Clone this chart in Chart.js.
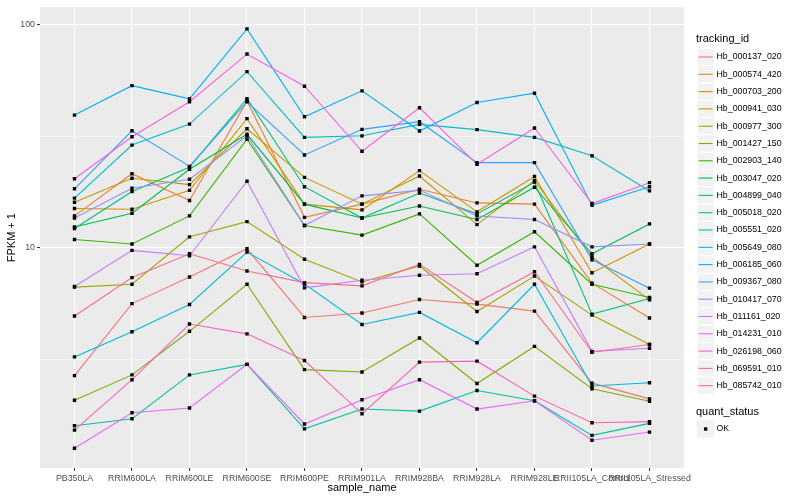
<!DOCTYPE html>
<html>
<head>
<meta charset="utf-8">
<script src="https://cdn.jsdelivr.net/npm/chart.js@4.4.1/dist/chart.umd.min.js"></script>
<style>
  html, body { margin: 0; padding: 0; background: #fff; }
  canvas { display: block; }
</style>
</head>
<body>
<canvas id="fpkmChart" width="800" height="500"></canvas>
<script>
// sample names on x
const samples = ['PB350LA', 'RRIM600LA', 'RRIM600LE', 'RRIM600SE', 'RRIM600PE', 'RRIM901LA',
  'RRIM928BA', 'RRIM928LA', 'RRIM928LE', 'RRII105LA_Control', 'RRII105LA_Stressed'];

// FPKM + 1 per tracking_id
const hb000137 = [2.67, 5.62, 7.40, 9.90, 4.87, 5.10, 5.86, 5.59, 5.20, 2.47, 2.10];
const hb000574 = [13.9, 21.5, 16.3, 45.6, 13.7, 15.7, 18.3, 15.9, 15.7, 6.94, 4.84];
const hb000703 = [15.0, 14.9, 18.1, 38.0, 15.7, 14.8, 22.2, 14.5, 20.9, 7.73, 10.4];
const hb000941 = [16.0, 20.5, 19.2, 34.2, 20.7, 15.7, 21.0, 12.7, 20.0, 9.09, 5.84];
const hb000977 = [6.66, 6.86, 11.2, 13.1, 8.88, 7.03, 8.29, 5.18, 7.47, 4.99, 3.68];
const hb001427 = [2.07, 2.69, 4.22, 6.86, 2.84, 2.77, 3.94, 2.46, 3.61, 2.33, 2.05];
const hb002903 = [10.9, 10.4, 13.9, 30.7, 12.6, 11.4, 14.2, 8.35, 11.8, 6.86, 5.98];
const hb003047 = [12.4, 14.3, 22.5, 32.3, 15.7, 13.6, 15.4, 13.4, 18.7, 9.40, 12.8];
const hb004899 = [12.2, 17.9, 23.0, 46.7, 18.8, 13.6, 17.6, 14.2, 19.7, 5.04, 5.92];
const hb005018 = [1.59, 1.71, 2.69, 3.00, 1.54, 1.89, 1.85, 2.29, 2.06, 1.44, 1.63];
const hb005551 = [16.7, 28.9, 35.9, 61.7, 31.3, 31.8, 35.8, 33.9, 31.3, 25.9, 18.0];
const hb005649 = [3.24, 4.20, 5.57, 9.57, 6.88, 4.53, 5.13, 3.75, 6.86, 2.40, 2.48];
const hb006185 = [39.4, 53.4, 46.6, 96.0, 38.7, 50.6, 33.4, 44.9, 49.4, 15.5, 18.8];
const hb009367 = [18.4, 33.5, 23.2, 45.2, 26.1, 34.0, 36.8, 24.1, 24.1, 8.84, 6.59];
const hb010417 = [13.6, 18.5, 20.3, 31.8, 12.6, 17.1, 18.1, 13.9, 13.4, 10.1, 10.4];
const hb011161 = [6.70, 9.74, 9.21, 19.9, 6.61, 7.15, 7.53, 7.65, 10.1, 3.43, 3.54];
const hb014231 = [1.26, 1.82, 1.91, 3.00, 1.62, 2.08, 2.56, 1.89, 2.06, 1.37, 1.49];
const hb026198 = [20.4, 31.5, 45.2, 74.0, 53.1, 27.1, 42.5, 23.7, 34.5, 15.8, 19.6];
const hb069591 = [1.52, 2.56, 4.55, 4.11, 3.12, 1.80, 3.07, 3.10, 2.16, 1.64, 1.66];
const hb085742 = [4.94, 7.35, 9.40, 7.87, 6.98, 6.75, 8.43, 5.68, 7.81, 3.40, 3.68];

const trackingIds = ['Hb_000137_020', 'Hb_000574_420', 'Hb_000703_200', 'Hb_000941_030', 'Hb_000977_300',
  'Hb_001427_150', 'Hb_002903_140', 'Hb_003047_020', 'Hb_004899_040', 'Hb_005018_020',
  'Hb_005551_020', 'Hb_005649_080', 'Hb_006185_060', 'Hb_009367_080', 'Hb_010417_070',
  'Hb_011161_020', 'Hb_014231_010', 'Hb_026198_060', 'Hb_069591_010', 'Hb_085742_010'];
const seriesValues = [hb000137, hb000574, hb000703, hb000941, hb000977, hb001427, hb002903, hb003047,
  hb004899, hb005018, hb005551, hb005649, hb006185, hb009367, hb010417, hb011161, hb014231,
  hb026198, hb069591, hb085742];

const yTicks = [3.1623, 10, 31.623, 100];
const yLabels = ['', '10', '', '100'];

// ggplot hue palette, 20 levels
const palette = ['#F8766D', '#EA8331', '#D89000', '#C09B00', '#A3A500', '#7CAE00', '#39B600', '#00BB4E',
  '#00BF7D', '#00C1A3', '#00BFC4', '#00BAE0', '#00B0F6', '#35A2FF', '#9590FF', '#C77CFF', '#E76BF3',
  '#FA62DB', '#FF62BC', '#FF6C91'];

const FONT = '"Liberation Sans", Arial, sans-serif';
Chart.defaults.font.family = FONT;

//Datasets: erst Linien, dann Punkte oben drauf
let datasets = [];
seriesValues.forEach((vals, i) => {
  datasets.push({
    label: trackingIds[i],
    data: vals.map((v, k) => ({ x: k, y: v })),
    borderColor: palette[i],
    borderWidth: 1.1,
    pointRadius: 0,
    tension: 0,
    order: 40 - i
  });
});
seriesValues.forEach((vals, i) => {
  datasets.push({
    label: trackingIds[i] + ' OK',
    data: vals.map((v, k) => ({ x: k, y: v })),
    showLine: false,
    pointStyle: 'rect',
    pointRadius: 2.4,
    pointBorderWidth: 0,
    pointBackgroundColor: '#000000',
    order: 0
  });
});

const panelBg = {
  id: 'panelBg',
  beforeDraw(chart) {
    const ctx = chart.ctx;
    const a = chart.chartArea;
    ctx.save();
    ctx.fillStyle = '#FFFFFF';
    ctx.fillRect(0, 0, chart.width, chart.height);
    ctx.fillStyle = '#EBEBEB';
    ctx.fillRect(a.left, a.top, a.right - a.left, a.bottom - a.top);
    ctx.restore();
  }
};

const ggLegend = {
  id: 'ggLegend',
  afterDraw(chart) {
    const ctx = chart.ctx;
    const x0 = 697;
    const key = 17.3;
    ctx.save();
    ctx.textBaseline = 'middle';
    ctx.textAlign = 'left';
    ctx.fillStyle = '#000000';
    ctx.font = '11px ' + FONT;
    ctx.fillText('tracking_id', 696, 38.5);
    ctx.font = '8.8px ' + FONT;
    trackingIds.forEach((id, i) => {
      const y = 57 + i * key;
      ctx.fillStyle = '#F2F2F2';
      ctx.fillRect(x0, y - key / 2, key, key);
      ctx.strokeStyle = '#FFFFFF';
      ctx.lineWidth = 1;
      ctx.strokeRect(x0, y - key / 2, key, key);
      ctx.strokeStyle = palette[i];
      ctx.lineWidth = 1.1;
      ctx.beginPath();
      ctx.moveTo(x0 + 1.7, y);
      ctx.lineTo(x0 + key - 1.7, y);
      ctx.stroke();
      ctx.fillStyle = '#000000';
      ctx.fillText(id, 716.5, y);
    });
    ctx.font = '11px ' + FONT;
    ctx.fillText('quant_status', 696, 411.5);
    const yOk = 429;
    ctx.fillStyle = '#F2F2F2';
    ctx.fillRect(x0, yOk - key / 2, key, key);
    ctx.fillStyle = '#000000';
    ctx.fillRect(x0 + key / 2 - 1.7, yOk - 1.7, 3.4, 3.4);
    ctx.font = '8.8px ' + FONT;
    ctx.fillText('OK', 716.5, yOk);
    ctx.restore();
  }
};

const chart = new Chart(document.getElementById('fpkmChart'), {
  type: 'line',
  data: { datasets: datasets },
  plugins: [panelBg, ggLegend],
  options: {
    responsive: false,
    animation: false,
    events: [],
    layout: { padding: { left: 0, right: 116, top: 5, bottom: 0 } },
    plugins: {
      legend: { display: false },
      tooltip: { enabled: false }
    },
    scales: {
      x: {
        type: 'linear',
        bounds: 'data',
        min: -0.6,
        max: 10.6,
        afterBuildTicks: (scale) => { scale.ticks = samples.map((s, i) => ({ value: i })); },
        afterFit: (scale) => { scale.height = 32; },
        grid: { color: '#FFFFFF', lineWidth: 1.07, tickColor: '#333333', tickLength: 3, tickWidth: 1 },
        border: { display: false },
        ticks: {
          autoSkip: false,
          maxRotation: 0,
          minRotation: 0,
          padding: 2,
          color: '#4D4D4D',
          font: { size: 8.8 },
          callback: (v) => samples[Math.round(v)]
        },
        title: {
          display: true,
          text: 'sample_name',
          color: '#000000',
          font: { size: 11 },
          padding: { top: 0, bottom: 5.5 }
        }
      },
      y: {
        type: 'logarithmic',
        bounds: 'data',
        min: 1.028,
        max: 120,
        afterBuildTicks: (scale) => { scale.ticks = yTicks.map(v => ({ value: v })); },
        afterFit: (scale) => { scale.width = 40; },
        grid: {
          color: '#FFFFFF',
          lineWidth: (c) => (c.tick && (c.tick.value === 10 || c.tick.value === 100)) ? 1.07 : 0.53,
          tickColor: (c) => (c.tick && (c.tick.value === 10 || c.tick.value === 100)) ? '#333333' : 'rgba(0,0,0,0)',
          tickLength: 3,
          tickWidth: 1
        },
        border: { display: false },
        ticks: {
          padding: 2,
          color: '#4D4D4D',
          font: { size: 8.8 },
          callback: (v, idx) => yLabels[idx]
        },
        title: {
          display: true,
          text: 'FPKM + 1',
          color: '#000000',
          font: { size: 11 },
          padding: { top: 5, bottom: 0 }
        }
      }
    }
  }
});
</script>
</body>
</html>
